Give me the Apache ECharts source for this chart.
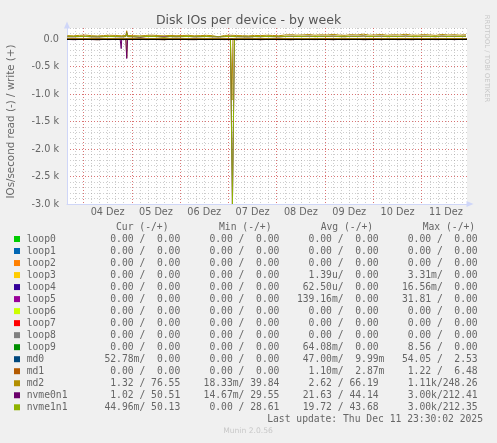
<!DOCTYPE html>
<html>
<head>
<meta charset="utf-8">
<title>Disk IOs per device - by week</title>
<script src="https://cdn.jsdelivr.net/npm/echarts@6/dist/echarts.min.js"></script>
<style>
  html, body { margin: 0; padding: 0; background: #F0F0F0; }
  #chart { width: 497px; height: 443px; }
</style>
</head>
<body>
<div id="chart"></div>
<script>
// Zeitraum des Wochengraphen (lokale Zeit)
const startTime = new Date(2025, 11, 3, 15, 50).getTime();
const endTime = new Date(2025, 11, 11, 22, 30).getTime();
const HOUR = 3600 * 1000;
const DAY = 24 * HOUR;

// Messwerte alle 3 h ab 03.12. 16:00 (67 Werte)
const sampleStart = new Date(2025, 11, 3, 16, 0).getTime();
const sampleStep = 3 * HOUR;

const devices = ['loop0', 'loop1', 'loop2', 'loop3', 'loop4', 'loop5', 'loop6', 'loop7',
  'loop8', 'loop9', 'md0', 'md1', 'md2', 'nvme0n1', 'nvme1n1'];
const deviceColors = ['#00CC00', '#0066B3', '#FF8000', '#FFCC00', '#330099', '#990099', '#CCFF00', '#FF0000',
  '#808080', '#008F00', '#00487D', '#B35A00', '#B38F00', '#6B006B', '#8FB300'];

// IOs/s write (+)
const md2Write = [62, 58, 66, 71, 60, 55, 63, 68, 64, 59,
  66, 61, 57, 64, 70, 62, 58, 65, 60, 63,
  67, 59, 62, 66, 61, 40, 64, 69, 63, 60,
  57, 65, 62, 68, 64, 59, 72, 78, 70, 74,
  81, 69, 76, 72, 84, 71, 67, 79, 73, 88,
  70, 75, 82, 68, 77, 73, 86, 71, 69, 80,
  74, 66, 83, 72, 78, 70, 77];
const nvme0n1Write = [42, 40, 45, 48, 41, 38, 44, 47, 43, 40,
  46, 42, 30, 44, 48, 43, 40, 45, 41, 44,
  47, 40, 43, 46, 42, 39, 44, 48, 43, 41,
  38, 45, 42, 47, 44, 40, 46, 50, 45, 47,
  52, 44, 49, 46, 53, 45, 43, 50, 47, 55,
  44, 48, 52, 43, 49, 46, 54, 45, 44, 51,
  47, 42, 53, 46, 50, 45, 51];
const nvme1n1Write = [41, 43, 44, 46, 40, 39, 43, 45, 44, 41,
  45, 40, 38, 45, 47, 42, 29, 44, 40, 43,
  46, 41, 42, 45, 41, 40, 43, 47, 42, 40,
  39, 44, 43, 46, 43, 41, 45, 49, 46, 46,
  51, 43, 48, 47, 52, 44, 42, 49, 46, 54,
  45, 47, 51, 44, 48, 45, 53, 44, 45, 50,
  46, 43, 52, 45, 49, 46, 50];

// IOs/s read (-)
const md2Read = [2, 3, 2, 4, 2, 3, 2, 3, 2, 2,
  3, 2, 4, 2, 3, 2, 2, 3, 2, 4,
  2, 3, 2, 2, 3, 2, 3, 2, 4, 2,
  3, 2, 2, 3, 2, 4, 2, 3, 2, 2,
  3, 2, 3, 2, 4, 2, 3, 2, 2, 3,
  2, 4, 2, 3, 2, 2, 3, 2, 3, 2,
  4, 2, 3, 2, 2, 3, 1];
const nvme0n1Read = [8, 12, 9, 6, 10, 14, 8, 11, 7, 9,
  13, 9, 5, 11, 8, 10, 13, 7, 9, 6,
  11, 12, 8, 10, 9, 7, 11, 9, 12, 7,
  10, 8, 12, 9, 6, 11, 9, 13, 7, 10,
  9, 11, 7, 9, 12, 8, 11, 9, 7, 12,
  10, 8, 11, 7, 9, 11, 9, 12, 7, 10,
  8, 11, 9, 7, 11, 9, 1];
const nvme1n1Read = [7, 10, 8, 5, 9, 12, 7, 9, 6, 8,
  11, 8, 4, 10, 7, 9, 12, 6, 8, 5,
  10, 11, 7, 9, 8, 6, 10, 8, 11, 6,
  9, 7, 11, 8, 5, 10, 8, 12, 6, 9,
  8, 10, 6, 8, 11, 7, 10, 8, 6, 11,
  9, 7, 10, 6, 8, 10, 8, 11, 6, 9,
  7, 10, 8, 6, 10, 8, 0];

// kurze Spitzen: [Tag, Stunde, Minute, Wert]
const md2ReadSpikes = [[4, 21, 5, 3], [4, 21, 30, 340], [4, 21, 55, 2], [7, 1, 15, 3], [7, 1, 45, 1110], [7, 2, 15, 2]];
const nvme0n1ReadSpikes = [[4, 18, 15, 10], [4, 18, 45, 175], [4, 19, 15, 11], [4, 21, 5, 10], [4, 21, 30, 355], [4, 21, 55, 9],
  [7, 2, 0, 3000], [7, 3, 0, 10]];
const nvme1n1ReadSpikes = [[7, 2, 0, 3000], [7, 3, 0, 9]];
const md2WriteSpikes = [[4, 21, 5, 66], [4, 21, 30, 150], [4, 21, 55, 64]];
const nvme0n1WriteSpikes = [[4, 21, 5, 45], [4, 21, 30, 115], [4, 21, 55, 44]];
const nvme1n1WriteSpikes = [[4, 21, 5, 44], [4, 21, 30, 110], [4, 21, 55, 43]];

// Legende: Cur / Min / Avg / Max (read/write), wie von munin ausgegeben
const legendCur = ['0.00 /  0.00 ', '0.00 /  0.00 ', '0.00 /  0.00 ', '0.00 /  0.00 ', '0.00 /  0.00 ',
  '0.00 /  0.00 ', '0.00 /  0.00 ', '0.00 /  0.00 ', '0.00 /  0.00 ', '0.00 /  0.00 ',
  '52.78m/  0.00 ', '0.00 /  0.00 ', '1.32 / 76.55 ', '1.02 / 50.51 ', '44.96m/ 50.13 '];
const legendMin = ['0.00 /  0.00 ', '0.00 /  0.00 ', '0.00 /  0.00 ', '0.00 /  0.00 ', '0.00 /  0.00 ',
  '0.00 /  0.00 ', '0.00 /  0.00 ', '0.00 /  0.00 ', '0.00 /  0.00 ', '0.00 /  0.00 ',
  '0.00 /  0.00 ', '0.00 /  0.00 ', '18.33m/ 39.84 ', '14.67m/ 29.55 ', '0.00 / 28.61 '];
const legendAvg = ['0.00 /  0.00 ', '0.00 /  0.00 ', '0.00 /  0.00 ', '1.39u/  0.00 ', '62.50u/  0.00 ',
  '139.16m/  0.00 ', '0.00 /  0.00 ', '0.00 /  0.00 ', '0.00 /  0.00 ', '64.08m/  0.00 ',
  '47.00m/  9.99m', '1.10m/  2.87m', '2.62 / 66.19 ', '21.63 / 44.14 ', '19.72 / 43.68 '];
const legendMax = ['0.00 /  0.00 ', '0.00 /  0.00 ', '0.00 /  0.00 ', '3.31m/  0.00 ', '16.56m/  0.00 ',
  '31.81 /  0.00 ', '0.00 /  0.00 ', '0.00 /  0.00 ', '0.00 /  0.00 ', '8.56 /  0.00 ',
  '54.05 /  2.53 ', '1.22 /  6.48 ', '1.11k/248.26 ', '3.00k/212.41 ', '3.00k/212.35 '];
const legendHeaders = ['Cur (-/+)', 'Min (-/+)', 'Avg (-/+)', 'Max (-/+)'];
const lastUpdate = 'Last update: Thu Dec 11 23:30:02 2025';

const sansFont = 'DejaVu Sans';
const monoFont = 'DejaVu Sans Mono';
const fontColor = '#666666';
const axisColor = '#CFD6F8';

const toTime = (d, h, m) => new Date(2025, 11, d, h, m).getTime();

function buildData(base, spikes, sign) {
  const pts = base.map((v, i) => [sampleStart + i * sampleStep, v]);
  spikes.forEach(s => pts.push([toTime(s[0], s[1], s[2]), s[3]]));
  pts.sort((a, b) => a[0] - b[0]);
  return pts.map(p => [p[0], sign * p[1]]);
}

// Geräte ohne Aktivität liegen durchgehend auf 0
const measured = {
  md2: { read: buildData(md2Read, md2ReadSpikes, -1), write: buildData(md2Write, md2WriteSpikes, 1) },
  nvme0n1: { read: buildData(nvme0n1Read, nvme0n1ReadSpikes, -1), write: buildData(nvme0n1Write, nvme0n1WriteSpikes, 1) },
  nvme1n1: { read: buildData(nvme1n1Read, nvme1n1ReadSpikes, -1), write: buildData(nvme1n1Write, nvme1n1WriteSpikes, 1) }
};
const idle = [[startTime, 0], [endTime, 0]];

const series = [];
devices.forEach((name, i) => {
  const m = measured[name];
  ['read', 'write'].forEach(dir => {
    series.push({
      name: name + '_' + dir,
      type: 'line',
      xAxisIndex: 0,
      yAxisIndex: 0,
      symbol: 'none',
      silent: true,
      lineStyle: { width: 1, color: deviceColors[i] },
      itemStyle: { color: deviceColors[i] },
      data: m ? m[dir] : idle
    });
  });
});
// schwarze Nulllinie
series[series.length - 1].markLine = {
  silent: true,
  symbol: 'none',
  label: { show: false },
  lineStyle: { color: '#000000', width: 1, type: 'solid' },
  data: [{ yAxis: 0 }]
};

// Legende als Tabelle
const rowY0 = 239;
const rowStep = 12.02;
const graphic = [];
devices.forEach((name, i) => {
  const y = rowY0 + i * rowStep;
  graphic.push({
    type: 'rect', silent: true,
    shape: { x: 14, y: y - 3, width: 6, height: 6 },
    style: { fill: deviceColors[i] }
  });
  graphic.push({
    type: 'text', silent: true, x: 26.7, y: y,
    style: { text: name, font: '9.7px "' + monoFont + '"', fill: fontColor, textVerticalAlign: 'middle' }
  });
  const cells = [legendCur[i], legendMin[i], legendAvg[i], legendMax[i]];
  const row = cells.map(c => {
    const parts = c.split('/');
    return parts[0].padStart(7, ' ') + '/' + parts[1].padEnd(7, ' ');
  }).join('  ');
  graphic.push({
    type: 'text', silent: true, x: 98.6, y: y,
    style: { text: row, font: '9.7px "' + monoFont + '"', fill: fontColor, textVerticalAlign: 'middle' }
  });
});
const headerX = [116, 219, 320.7, 422.7];
legendHeaders.forEach((h, i) => {
  graphic.push({
    type: 'text', silent: true, x: headerX[i], y: 227.7,
    style: { text: h, font: '9.7px "' + monoFont + '"', fill: fontColor, textVerticalAlign: 'middle' }
  });
});
graphic.push({
  type: 'text', silent: true, x: 483, y: rowY0 + 15 * rowStep,
  style: { text: lastUpdate, font: '9.7px "' + monoFont + '"', fill: fontColor, textAlign: 'right', textVerticalAlign: 'middle' }
});
graphic.push({
  type: 'text', silent: true, x: 248, y: 431,
  style: { text: 'Munin 2.0.56', font: '7.6px "' + sansFont + '"', fill: '#c8c8c8', textAlign: 'center', textVerticalAlign: 'middle' }
});
graphic.push({
  type: 'text', silent: true, x: 487, y: 58.5, rotation: -Math.PI / 2,
  style: { text: 'RRDTOOL / TOBI OETIKER', font: '6.8px "' + sansFont + '"', fill: '#c8c8c8', textAlign: 'center', textVerticalAlign: 'middle' }
});
graphic.push({
  type: 'text', silent: true, x: 11, y: 121.5, rotation: Math.PI / 2,
  style: { text: 'IOs/second read (-) / write (+)', font: '10.3px "' + sansFont + '"', fill: fontColor, textAlign: 'center', textVerticalAlign: 'middle' }
});

const isMidnight = v => { const d = new Date(v); return d.getHours() === 0 && d.getMinutes() === 0; };

const chart = echarts.init(document.getElementById('chart'), null, { renderer: 'canvas' });
chart.setOption({
  animation: false,
  backgroundColor: '#F0F0F0',
  title: {
    text: 'Disk IOs per device - by week',
    left: 'center',
    top: 9,
    textStyle: { fontFamily: sansFont, fontSize: 12.5, fontWeight: 'normal', color: '#555555' }
  },
  grid: { left: 67, right: 30, top: 28, bottom: 239, backgroundColor: '#FFFFFF', show: true, borderWidth: 0 },
  xAxis: [
    {
      // Datenachse mit Tageslinien
      type: 'time', position: 'bottom', min: startTime, max: endTime,
      splitNumber: 8, minInterval: DAY, maxInterval: DAY,
      axisLine: { onZero: false, lineStyle: { color: axisColor, width: 1 }, symbol: ['none', 'triangle'], symbolSize: [6, 7], symbolOffset: [0, 3] },
      axisTick: { show: false },
      axisLabel: { show: false },
      splitLine: { show: true, showMinLine: false, showMaxLine: false, lineStyle: { color: 'rgba(224,80,80,0.7)', width: 1, type: [1, 2] } },
      z: 2
    },
    {
      // 6-Stunden-Raster
      type: 'time', position: 'bottom', min: startTime, max: endTime,
      splitNumber: 33, minInterval: 6 * HOUR, maxInterval: 6 * HOUR,
      axisLine: { show: false, onZero: false },
      axisTick: { show: false },
      axisLabel: { show: false },
      splitLine: { show: true, showMinLine: false, showMaxLine: false, lineStyle: { color: 'rgba(144,144,144,0.45)', width: 1, type: [1, 2] } },
      z: 1
    },
    {
      // Beschriftung mittig zwischen den Tageslinien
      type: 'time', position: 'bottom', min: startTime - 12 * HOUR, max: endTime - 12 * HOUR,
      splitNumber: 8, minInterval: DAY, maxInterval: DAY,
      axisLine: { show: false, onZero: false },
      axisTick: { show: false },
      splitLine: { show: false },
      axisLabel: {
        margin: 3,
        fontFamily: sansFont, fontSize: 9.7, color: fontColor,
        hideOverlap: false,
        formatter: v => isMidnight(v) ? String(new Date(v).getDate()).padStart(2, '0') + ' Dez' : ''
      }
    }
  ],
  yAxis: [
    {
      type: 'value', position: 'left', min: -3000, max: 200, interval: 500,
      axisLine: { show: true, onZero: false, lineStyle: { color: axisColor, width: 1 }, symbol: ['none', 'triangle'], symbolSize: [6, 7], symbolOffset: [0, 3] },
      axisTick: { show: false },
      axisLabel: {
        margin: 8, fontFamily: sansFont, fontSize: 9.7, color: fontColor,
        formatter: v => v > 0 ? '' : (v === 0 ? '0.0' : (v / 1000).toFixed(1) + ' k')
      },
      splitLine: { show: true, showMaxLine: false, showMinLine: false, lineStyle: { color: 'rgba(224,80,80,0.7)', width: 1, type: [1, 2] } },
      z: 2
    },
    {
      type: 'value', position: 'left', min: -3000, max: 200, interval: 100,
      axisLine: { show: false, onZero: false },
      axisTick: { show: false },
      axisLabel: { show: false },
      splitLine: { show: true, showMinLine: false, lineStyle: { color: 'rgba(144,144,144,0.45)', width: 1, type: [1, 2] } },
      z: 1
    }
  ],
  series: series,
  graphic: graphic
});
</script>
</body>
</html>
